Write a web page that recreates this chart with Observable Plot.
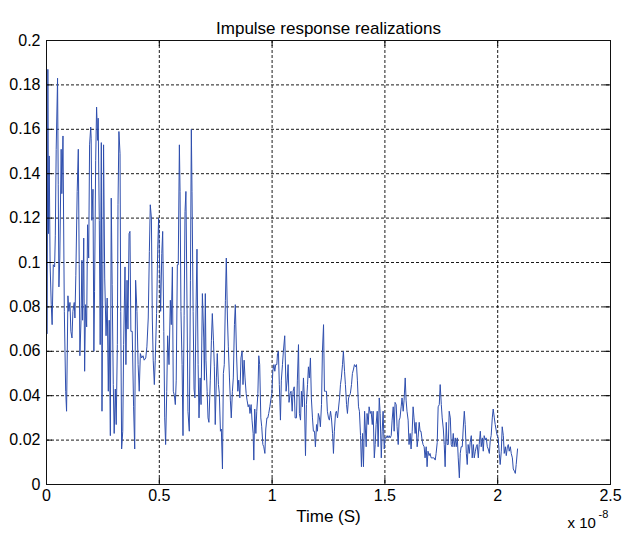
<!DOCTYPE html>
<html><head><meta charset="utf-8">
<script src="https://cdn.jsdelivr.net/npm/d3@7"></script>
<script src="https://cdn.jsdelivr.net/npm/@observablehq/plot@0.6"></script>
<style>html,body{margin:0;padding:0;background:#fff;}</style>
</head><body><div id="chart"></div>
<script>
// time in units of 1e-8 s
const time = [
0.003,0.006,0.009,0.012,0.016,0.021,0.025,0.030,0.036,0.039,0.043,0.049,0.052,0.055,0.059,0.065,0.068,0.073,0.079,0.085,
0.089,0.095,0.099,0.104,0.108,0.113,0.117,0.123,0.126,0.130,0.136,0.141,0.145,0.148,0.153,0.157,0.160,0.165,0.169,0.173,
0.178,0.182,0.187,0.191,0.196,0.198,0.201,0.206,0.210,0.213,0.218,0.222,0.227,0.229,0.234,0.238,0.243,0.246,0.250,0.253,
0.258,0.264,0.269,0.274,0.278,0.283,0.287,0.291,0.296,0.300,0.305,0.309,0.314,0.317,0.321,0.326,0.329,0.333,0.338,0.342,
0.348,
0.352,0.357,0.361,0.366,0.370,0.374,0.380,0.386,0.391,0.395,0.401,0.406,0.411,0.416,0.422,0.428,0.433,0.440,0.445,0.451,
0.456,0.460,0.465,0.469,0.473,0.478,0.482,0.488,0.493,0.497,0.502,0.506,0.511,0.515,0.520,0.524,0.528,0.533,0.537,0.543,
0.549,0.553,0.558,0.562,0.567,0.571,0.575,0.580,0.584,0.589,0.592,0.596,0.601,0.605,0.610,0.614,0.618,0.623,0.627,0.633,
0.638,0.642,0.645,0.650,0.654,0.658,0.663,0.667,0.672,0.676,0.681,0.685,0.691,0.697,0.700,0.704,
0.707,0.712,0.716,0.720,0.726,0.731,0.735,0.740,0.744,0.748,0.753,0.757,0.762,0.766,0.771,0.775,0.780,0.784,0.788,0.793,
0.797,0.802,0.806,0.811,0.815,0.819,0.824,0.828,0.833,0.837,0.842,0.848,0.852,0.857,0.862,0.867,0.871,0.876,0.880,0.885,
0.889,0.894,0.898,0.902,0.907,0.911,0.916,0.919,0.923,0.928,0.932,0.937,0.941,0.945,0.950,0.954,0.959,0.963,0.968,0.972,
0.977,0.981,0.985,0.990,0.994,0.999,1.003,1.008,1.012,1.016,1.021,1.024,1.028,1.032,1.037,1.041,1.046,1.050,1.056,
1.062,1.067,1.071,1.075,1.080,1.084,1.089,1.093,1.098,1.102,1.108,1.112,1.117,1.121,1.126,1.130,1.134,1.139,1.143,1.148,
1.152,1.157,1.161,1.165,1.170,1.174,1.179,1.183,1.188,1.192,1.197,1.201,1.205,1.210,1.214,1.219,1.223,1.228,1.232,1.236,
1.241,1.245,1.250,1.254,1.259,1.263,1.268,1.272,1.276,1.281,1.285,1.290,1.294,1.299,1.303,1.307,1.312,1.316,1.321,1.325,
1.330,1.334,1.339,1.343,1.347,1.352,1.356,1.361,1.365,1.370,1.374,1.378,1.383,1.387,1.392,1.396,1.401,1.405,1.410,
1.417,1.421,1.426,1.430,1.435,1.439,1.444,1.448,1.453,1.457,1.461,1.466,1.470,1.475,1.479,1.484,1.488,1.492,1.497,1.501,
1.506,1.510,1.514,1.519,1.523,1.528,1.532,1.537,1.541,1.545,1.550,1.554,1.559,1.563,1.567,1.572,1.576,1.581,1.585,1.590,
1.594,1.598,1.603,1.607,1.612,1.616,1.621,1.625,1.629,1.634,1.638,1.643,1.647,1.652,1.656,1.660,1.665,1.669,1.674,1.678,
1.683,1.687,1.691,1.696,1.700,1.705,1.709,1.714,1.718,1.723,1.727,1.732,1.736,1.741,1.745,1.750,1.754,1.759,1.763,1.767,
1.772,1.776,1.781,1.785,1.790,1.794,1.798,1.803,1.807,1.812,1.816,1.821,1.825,1.830,1.834,1.838,1.843,1.847,1.852,1.856,
1.861,1.865,1.869,1.874,1.878,1.883,1.887,1.892,1.896,1.901,1.905,1.909,1.914,1.918,1.923,1.927,1.932,1.936,1.940,1.945,
1.949,1.954,1.958,1.963,1.967,1.971,1.976,1.980,1.985,1.989,1.994,1.998,2.002,2.007,2.011,2.016,2.020,2.025,2.029,2.034,
2.038,2.043,2.047,2.051,2.056,2.060,2.065,2.069,2.074,2.078,2.082,2.088
];
const amplitude = [
0.068,0.187,0.113,0.148,0.099,0.081,0.072,0.099,0.098,0.112,0.151,0.183,0.135,0.089,0.102,0.151,0.131,0.157,0.078,0.042,
0.033,0.085,0.078,0.082,0.069,0.066,0.078,0.082,0.075,0.094,0.132,0.151,0.099,0.058,0.074,0.101,0.074,0.111,0.051,0.081,
0.071,0.117,0.102,0.153,0.161,0.156,0.119,0.133,0.060,0.087,0.146,0.170,0.155,0.165,0.119,0.063,0.154,0.033,0.099,0.153,
0.093,0.067,0.084,0.042,0.074,0.022,0.129,0.090,0.045,0.023,0.043,0.027,0.063,0.126,0.159,0.149,0.078,0.016,0.024,0.063,
0.098,
0.054,0.092,0.070,0.113,0.114,0.069,0.069,0.035,0.016,0.092,0.078,0.054,0.042,0.059,0.057,0.058,0.056,0.057,0.062,0.075,
0.105,0.126,0.120,0.075,0.056,0.045,0.056,0.077,0.106,0.120,0.096,0.078,0.104,0.114,0.069,0.030,0.018,0.042,0.067,0.054,
0.083,0.072,0.098,0.042,0.040,0.036,0.047,0.099,0.099,0.153,0.132,0.078,0.054,0.022,0.076,0.123,0.132,0.079,0.033,0.024,
0.092,0.160,0.132,0.078,0.043,0.039,0.080,0.106,0.054,0.030,0.048,0.036,0.086,0.066,0.047,0.086,
0.056,0.042,0.030,0.028,0.047,0.065,0.077,0.065,0.053,0.027,0.048,0.059,0.045,0.041,0.024,0.025,0.007,0.050,0.054,0.083,
0.102,0.075,0.062,0.048,0.038,0.030,0.042,0.048,0.072,0.081,0.060,0.042,0.047,0.039,0.057,0.060,0.045,0.056,0.048,0.041,
0.038,0.035,0.036,0.032,0.036,0.029,0.023,0.011,0.034,0.023,0.033,0.041,0.058,0.054,0.030,0.026,0.018,0.017,0.014,0.025,
0.030,0.030,0.032,0.035,0.038,0.041,0.051,0.054,0.051,0.054,0.054,0.059,0.060,0.045,0.029,0.047,0.054,0.060,0.067,
0.042,0.047,0.054,0.037,0.041,0.042,0.033,0.042,0.044,0.030,0.030,0.047,0.063,0.032,0.029,0.042,0.035,0.048,0.039,0.013,
0.036,0.045,0.053,0.048,0.057,0.039,0.030,0.024,0.024,0.017,0.027,0.024,0.032,0.030,0.026,0.036,0.060,0.072,0.042,0.042,
0.042,0.033,0.030,0.029,0.033,0.030,0.023,0.014,0.024,0.032,0.033,0.030,0.034,0.039,0.045,0.048,0.054,0.060,0.051,0.045,
0.036,0.032,0.039,0.040,0.041,0.045,0.050,0.052,0.054,0.053,0.054,0.047,0.035,0.033,0.022,0.008,0.023,0.008,0.033,
0.017,0.032,0.027,0.035,0.032,0.033,0.027,0.033,0.012,0.018,0.027,0.033,0.017,0.039,0.032,0.012,0.024,0.033,0.016,0.021,
0.021,0.022,0.021,0.022,0.021,0.022,0.029,0.035,0.024,0.037,0.036,0.026,0.018,0.029,0.030,0.035,0.039,0.033,0.038,0.048,
0.038,0.033,0.029,0.018,0.023,0.016,0.024,0.035,0.030,0.023,0.028,0.017,0.021,0.028,0.024,0.024,0.020,0.018,0.017,0.012,
0.017,0.008,0.015,0.013,0.014,0.012,0.012,0.012,0.012,0.011,0.014,0.019,0.035,0.036,0.045,0.036,0.030,0.025,0.018,0.008,
0.028,0.018,0.018,0.033,0.030,0.018,0.017,0.023,0.017,0.021,0.017,0.021,0.012,0.003,0.014,0.017,0.017,0.025,0.033,0.027,
0.014,0.009,0.018,0.014,0.019,0.022,0.012,0.018,0.012,0.015,0.017,0.018,0.012,0.018,0.024,0.017,0.021,0.015,0.022,0.020,
0.021,0.017,0.016,0.014,0.020,0.022,0.030,0.034,0.030,0.027,0.024,0.022,0.021,0.014,0.009,0.015,0.026,0.022,0.014,0.017,
0.013,0.017,0.018,0.015,0.017,0.014,0.012,0.007,0.006,0.005,0.009,0.016
];
const xTicks = [0, 0.5, 1, 1.5, 2, 2.5];
const xTickLabels = ["0", "0.5", "1", "1.5", "2", "2.5"];
const yTicks = [0, 0.02, 0.04, 0.06, 0.08, 0.1, 0.12, 0.14, 0.16, 0.18, 0.2];
const yTickLabels = ["0", "0.02", "0.04", "0.06", "0.08", "0.1", "0.12", "0.14", "0.16", "0.18", "0.2"];
const titleText = "Impulse response realizations";
const xLabelText = "Time (S)";
const xScaleBase = "x 10";
const xScaleExp = "-8";

const points = time.map((t, i) => ({t, v: amplitude[i]}));
const xTickObjs = xTicks.map((v, i) => ({v, label: xTickLabels[i]}));
const yTickObjs = yTicks.map((v, i) => ({v, label: yTickLabels[i]}));

const W = 624, H = 535, mL = 46, mR = 14, mT = 40, mB = 51;
const innerW = W - mL - mR, innerH = H - mT - mB, tk = 6;
const font = "'Liberation Sans', Arial, Helvetica, sans-serif";

const chart = Plot.plot({
  width: W, height: H,
  marginLeft: mL, marginRight: mR, marginTop: mT, marginBottom: mB,
  style: {fontFamily: font, background: "#fff", color: "#000", overflow: "visible"},
  x: {domain: [0, 2.5], axis: null},
  y: {domain: [0, 0.2], axis: null},
  marks: [
    Plot.ruleX(xTicks.slice(1, -1), {stroke: "#000", strokeOpacity: 0.9, strokeDasharray: "3,2"}),
    Plot.ruleY(yTicks.slice(1, -1), {stroke: "#000", strokeOpacity: 0.9, strokeDasharray: "3,2"}),
    Plot.line(points, {x: "t", y: "v", stroke: "#2f4fae", strokeWidth: 1}),
    Plot.ruleX(xTicks, {insetTop: innerH - tk, stroke: "#000"}),
    Plot.ruleX(xTicks, {insetBottom: innerH - tk, stroke: "#000"}),
    Plot.ruleY(yTicks, {insetRight: innerW - tk, stroke: "#000"}),
    Plot.ruleY(yTicks, {insetLeft: innerW - tk, stroke: "#000"}),
    Plot.frame({stroke: "#111"}),
    Plot.text(xTickObjs, {x: "v", text: "label", frameAnchor: "bottom", lineAnchor: "top", dy: 5, fontSize: 16, fill: "#000"}),
    Plot.text(yTickObjs, {y: "v", text: "label", frameAnchor: "left", textAnchor: "end", dx: -6, fontSize: 16, fill: "#000"}),
    Plot.text([titleText], {frameAnchor: "top", dy: -19, fontSize: 17, fill: "#000"}),
    Plot.text([xLabelText], {frameAnchor: "bottom", dy: 37, fontSize: 17, fill: "#000"}),
    Plot.text([xScaleBase], {frameAnchor: "bottom-right", textAnchor: "start", dx: -43, dy: 43, fontSize: 15, fill: "#000"}),
    Plot.text([xScaleExp], {frameAnchor: "bottom-right", textAnchor: "start", dx: -12, dy: 33, fontSize: 11, fill: "#000"})
  ]
});
document.getElementById("chart").appendChild(chart);
</script>
</body></html>
